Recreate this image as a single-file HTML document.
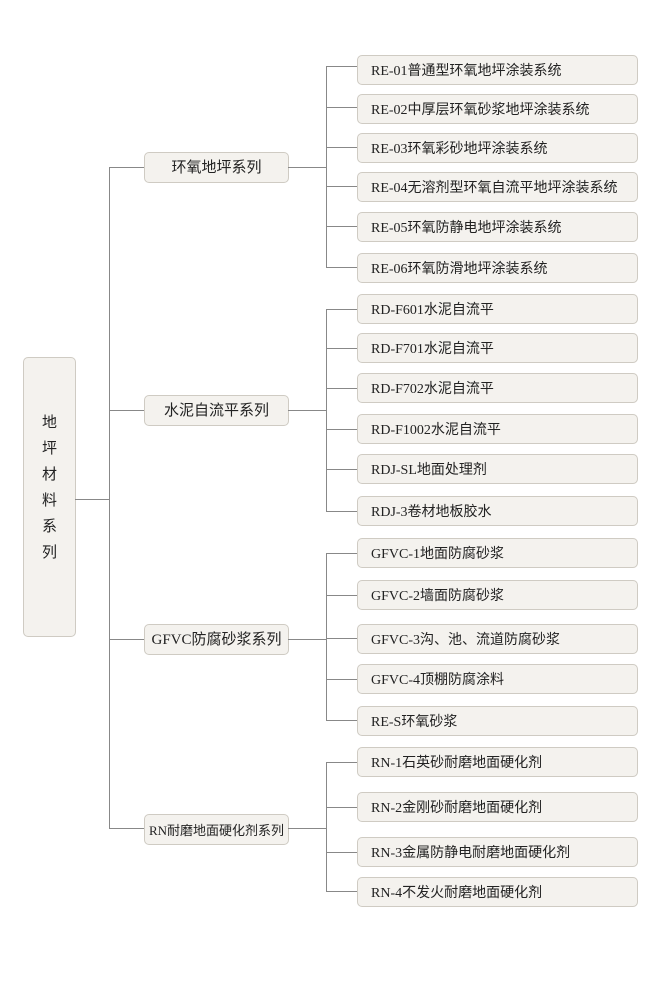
<!DOCTYPE html>
<html><head><meta charset="utf-8"><style>
body{margin:0;width:652px;height:992px;background:#fff;position:relative;overflow:hidden;font-family:"Liberation Serif","Noto Sans CJK SC",serif;}
.b{position:absolute;background:#f4f2ee;border:1px solid #cfcbc3;border-radius:5px;box-sizing:border-box;color:#222;font-size:14px;white-space:nowrap;}
.leaf{left:357px;width:281px;height:30px;line-height:32px;padding-left:13px;}
.mid{left:144px;width:145px;height:31px;line-height:31px;text-align:center;font-size:15px;}
.l{position:absolute;background:#888;}
</style></head><body>
<div class="b" style="left:23px;top:357px;width:53px;height:280px;font-size:15px;text-align:center;line-height:26px;padding-top:52px;">地<br>坪<br>材<br>料<br>系<br>列</div>
<div class="l" style="left:75px;top:499px;width:34px;height:1px"></div>
<div class="l" style="left:109px;top:167px;width:1px;height:662px"></div>

<div class="l" style="left:109px;top:167px;width:35px;height:1px"></div>
<div class="l" style="left:109px;top:410px;width:35px;height:1px"></div>
<div class="l" style="left:109px;top:639px;width:35px;height:1px"></div>
<div class="l" style="left:109px;top:828px;width:35px;height:1px"></div>

<div class="b mid" style="top:152px">环氧地坪系列</div>
<div class="b mid" style="top:395px">水泥自流平系列</div>
<div class="b mid" style="top:624px">GFVC防腐砂浆系列</div>
<div class="b mid" style="top:814px;font-size:13px">RN耐磨地面硬化剂系列</div>

<div class="l" style="left:288px;top:167px;width:38px;height:1px"></div>
<div class="l" style="left:288px;top:410px;width:38px;height:1px"></div>
<div class="l" style="left:288px;top:639px;width:38px;height:1px"></div>
<div class="l" style="left:288px;top:828px;width:38px;height:1px"></div>

<div class="l" style="left:326px;top:66px;width:1px;height:201px"></div>
<div class="l" style="left:326px;top:309px;width:1px;height:202px"></div>
<div class="l" style="left:326px;top:553px;width:1px;height:167px"></div>
<div class="l" style="left:326px;top:762px;width:1px;height:129px"></div>

<div class="l" style="left:326px;top:66px;width:31px;height:1px"></div>
<div class="l" style="left:326px;top:107px;width:31px;height:1px"></div>
<div class="l" style="left:326px;top:147px;width:31px;height:1px"></div>
<div class="l" style="left:326px;top:186px;width:31px;height:1px"></div>
<div class="l" style="left:326px;top:226px;width:31px;height:1px"></div>
<div class="l" style="left:326px;top:267px;width:31px;height:1px"></div>
<div class="l" style="left:326px;top:309px;width:31px;height:1px"></div>
<div class="l" style="left:326px;top:348px;width:31px;height:1px"></div>
<div class="l" style="left:326px;top:388px;width:31px;height:1px"></div>
<div class="l" style="left:326px;top:429px;width:31px;height:1px"></div>
<div class="l" style="left:326px;top:469px;width:31px;height:1px"></div>
<div class="l" style="left:326px;top:511px;width:31px;height:1px"></div>
<div class="l" style="left:326px;top:553px;width:31px;height:1px"></div>
<div class="l" style="left:326px;top:595px;width:31px;height:1px"></div>
<div class="l" style="left:326px;top:638px;width:31px;height:1px"></div>
<div class="l" style="left:326px;top:679px;width:31px;height:1px"></div>
<div class="l" style="left:326px;top:720px;width:31px;height:1px"></div>
<div class="l" style="left:326px;top:762px;width:31px;height:1px"></div>
<div class="l" style="left:326px;top:807px;width:31px;height:1px"></div>
<div class="l" style="left:326px;top:852px;width:31px;height:1px"></div>
<div class="l" style="left:326px;top:891px;width:31px;height:1px"></div>

<div class="b leaf" style="top:55px">RE-01普通型环氧地坪涂装系统</div>
<div class="b leaf" style="top:94px">RE-02中厚层环氧砂浆地坪涂装系统</div>
<div class="b leaf" style="top:133px">RE-03环氧彩砂地坪涂装系统</div>
<div class="b leaf" style="top:172px">RE-04无溶剂型环氧自流平地坪涂装系统</div>
<div class="b leaf" style="top:212px">RE-05环氧防静电地坪涂装系统</div>
<div class="b leaf" style="top:253px">RE-06环氧防滑地坪涂装系统</div>
<div class="b leaf" style="top:294px">RD-F601水泥自流平</div>
<div class="b leaf" style="top:333px">RD-F701水泥自流平</div>
<div class="b leaf" style="top:373px">RD-F702水泥自流平</div>
<div class="b leaf" style="top:414px">RD-F1002水泥自流平</div>
<div class="b leaf" style="top:454px">RDJ-SL地面处理剂</div>
<div class="b leaf" style="top:496px">RDJ-3卷材地板胶水</div>
<div class="b leaf" style="top:538px">GFVC-1地面防腐砂浆</div>
<div class="b leaf" style="top:580px">GFVC-2墙面防腐砂浆</div>
<div class="b leaf" style="top:624px">GFVC-3沟、池、流道防腐砂浆</div>
<div class="b leaf" style="top:664px">GFVC-4顶棚防腐涂料</div>
<div class="b leaf" style="top:706px">RE-S环氧砂浆</div>
<div class="b leaf" style="top:747px">RN-1石英砂耐磨地面硬化剂</div>
<div class="b leaf" style="top:792px">RN-2金刚砂耐磨地面硬化剂</div>
<div class="b leaf" style="top:837px">RN-3金属防静电耐磨地面硬化剂</div>
<div class="b leaf" style="top:877px">RN-4不发火耐磨地面硬化剂</div>
</body></html>
